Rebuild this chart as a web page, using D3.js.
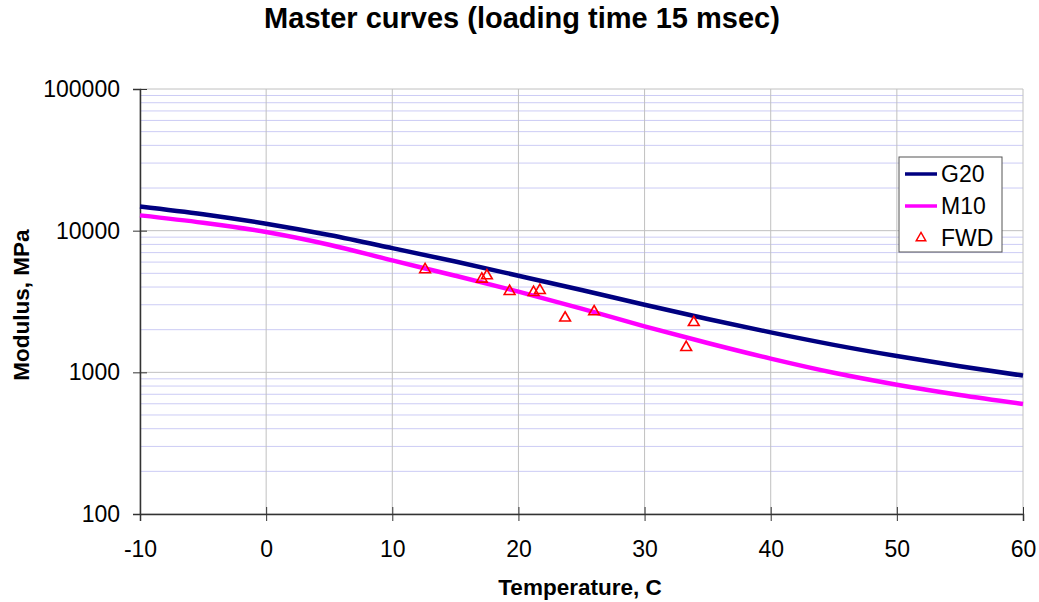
<!DOCTYPE html>
<html>
<head>
<meta charset="utf-8">
<script src="https://cdn.jsdelivr.net/npm/d3@7"></script>
<style>
  body { margin: 0; background: #fff; }
  text { font-family: "Liberation Sans", Arial, sans-serif; }
</style>
</head>
<body>
<svg id="chart" width="1039" height="602"></svg>
<script>
// temperatures (C) where the master curves were read
const temps = [-10, -5, 0, 5, 10, 15, 20, 25, 30, 35, 40, 45, 50, 55, 60]
const g20 = [14825, 13061, 11194, 9311, 7534, 6053, 4808, 3811, 2999, 2382, 1914, 1563, 1303, 1104, 948]
const m10 = [12823, 11376, 9795, 7962, 6166, 4808, 3715, 2818, 2113, 1611, 1250, 993, 818, 692, 598]

// FWD backcalculated moduli
const fwdTemp = [12.6, 17.1, 17.5, 19.3, 21.2, 21.7, 23.7, 26.0, 33.3, 33.9]
const fwdMod = [5310, 4560, 4810, 3730, 3670, 3790, 2420, 2680, 1500, 2250]

const xTicks = [-10, 0, 10, 20, 30, 40, 50, 60]
const yTicks = [100, 1000, 10000, 100000]

const svg = d3.select('#chart')
const plotL = 140, plotR = 1023, plotT = 89, plotB = 514

const x = d3.scaleLinear().domain([-10, 60]).range([plotL, plotR])
const y = d3.scaleLog().domain([100, 100000]).range([plotB, plotT])

// minor grid (2..9 of each decade)
let minor = []
yTicks.slice(0, -1).forEach(d => {
	for (let k = 2; k < 10; k++) minor.push(d * k)
})
svg.append('g').selectAll('line')
	.data(minor)
	.enter().append('line')
	.attr('x1', plotL).attr('x2', plotR)
	.attr('y1', d => y(d)).attr('y2', d => y(d))
	.style('stroke', '#ccccf5')
	.style('stroke-width', 1)

// major grid
svg.append('g').selectAll('line')
	.data(yTicks)
	.enter().append('line')
	.attr('x1', plotL).attr('x2', plotR)
	.attr('y1', d => y(d)).attr('y2', d => y(d))
	.style('stroke', '#c0c0c0')
svg.append('g').selectAll('line')
	.data(xTicks)
	.enter().append('line')
	.attr('x1', d => x(d)).attr('x2', d => x(d))
	.attr('y1', plotT).attr('y2', plotB)
	.style('stroke', '#c0c0c0')

// axes
let xAxis = svg.append('g')
	.attr('transform', `translate(0,${plotB})`)
	.call(d3.axisBottom(x).tickValues(xTicks).tickFormat(d => String(d)).tickSize(7).tickPadding(20))
xAxis.selectAll('.tick line').attr('y1', -7)
let yAxis = svg.append('g')
	.attr('transform', `translate(${plotL},0)`)
	.call(d3.axisLeft(y).tickValues(yTicks).tickFormat(d => String(d)).tickSize(7).tickPadding(13))
yAxis.selectAll('.tick line').attr('x1', 7)
svg.selectAll('.domain').style('stroke', '#333').style('stroke-width', 1.5)
svg.selectAll('.tick line').style('stroke', '#333')
svg.selectAll('.tick text')
	.style('font-family', '"Liberation Sans", Arial, sans-serif')
	.style('font-size', '23px')
	.style('fill', '#000')

// curves
let line = d3.line()
	.x((d, i) => x(temps[i]))
	.y(d => y(d))
	.curve(d3.curveMonotoneX)
svg.append('path').datum(g20)
	.attr('d', line)
	.style('fill', 'none')
	.style('stroke', '#000080')
	.style('stroke-width', 4.5)
svg.append('path').datum(m10)
	.attr('d', line)
	.style('fill', 'none')
	.style('stroke', '#ff00ff')
	.style('stroke-width', 4.5)

// FWD points
let tri = d3.symbol().type(d3.symbolTriangle).size(50)
svg.append('g').selectAll('path')
	.data(fwdTemp)
	.enter().append('path')
	.attr('d', tri)
	.attr('transform', (d, i) => `translate(${x(d)},${y(fwdMod[i])})`)
	.style('fill', 'none')
	.style('stroke', '#ff0000')
	.style('stroke-width', 1.6)

// titles
svg.append('text')
	.attr('x', 522).attr('y', 28)
	.attr('text-anchor', 'middle')
	.style('font-size', '29px').style('font-weight', 'bold')
	.text('Master curves (loading time 15 msec)')
svg.append('text')
	.attr('x', 580).attr('y', 595)
	.attr('text-anchor', 'middle')
	.style('font-size', '22.5px').style('font-weight', 'bold')
	.text('Temperature, C')
svg.append('text')
	.attr('transform', 'translate(29,305) rotate(-90)')
	.attr('text-anchor', 'middle')
	.style('font-size', '22.5px').style('font-weight', 'bold')
	.text('Modulus, MPa')

// legend
let legend = svg.append('g')
legend.append('rect')
	.attr('x', 899).attr('y', 157).attr('width', 103).attr('height', 95)
	.style('fill', '#fff').style('stroke', '#555').style('stroke-width', 1)
const legendNames = ['G20', 'M10', 'FWD']
const legendColors = ['#000080', '#ff00ff', '#ff0000']
legendNames.forEach((name, i) => {
	let cy = 174 + i * 32
	if (i < 2) {
		legend.append('line')
			.attr('x1', 905).attr('x2', 937).attr('y1', cy).attr('y2', cy)
			.style('stroke', legendColors[i]).style('stroke-width', 3.5)
	} else {
		legend.append('path')
			.attr('d', d3.symbol().type(d3.symbolTriangle).size(40))
			.attr('transform', `translate(921,${cy})`)
			.style('fill', 'none').style('stroke', legendColors[i]).style('stroke-width', 1.4)
	}
	legend.append('text')
		.attr('x', 941).attr('y', cy + 8)
		.style('font-size', '23px')
		.text(name)
})
</script>
</body>
</html>
